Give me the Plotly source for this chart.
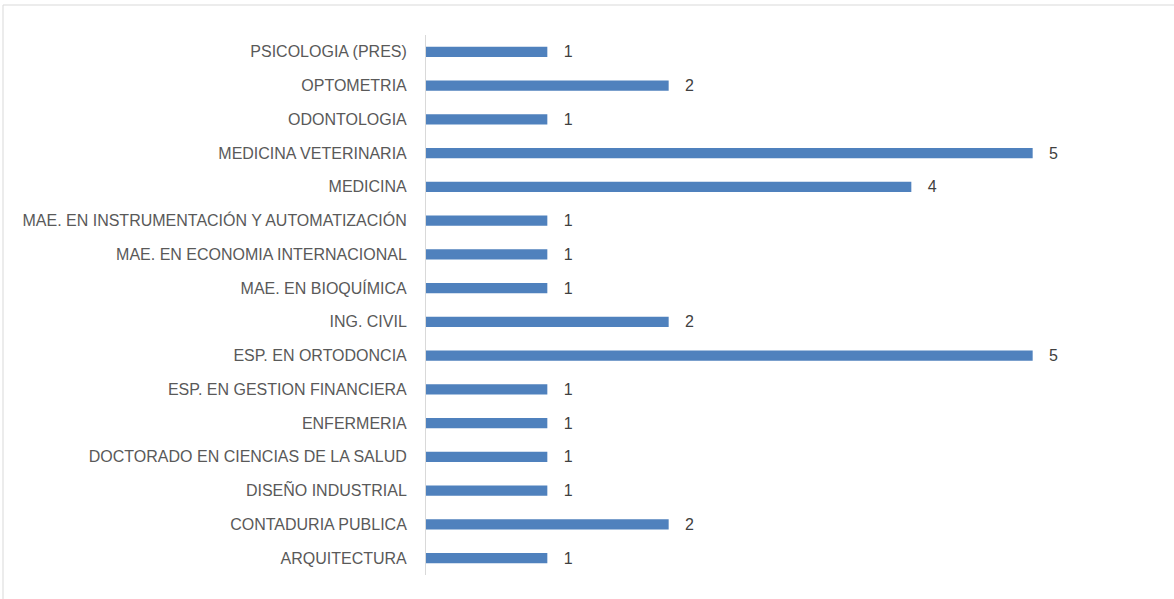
import plotly.graph_objects as go

categories = [
    "ARQUITECTURA",
    "CONTADURIA PUBLICA",
    "DISEÑO INDUSTRIAL",
    "DOCTORADO EN CIENCIAS DE LA SALUD",
    "ENFERMERIA",
    "ESP. EN GESTION FINANCIERA",
    "ESP. EN ORTODONCIA",
    "ING. CIVIL",
    "MAE. EN BIOQUÍMICA",
    "MAE. EN ECONOMIA INTERNACIONAL",
    "MAE. EN INSTRUMENTACIÓN Y AUTOMATIZACIÓN",
    "MEDICINA",
    "MEDICINA VETERINARIA",
    "ODONTOLOGIA",
    "OPTOMETRIA",
    "PSICOLOGIA (PRES)",
]
values = [1, 2, 1, 1, 1, 1, 5, 2, 1, 1, 1, 4, 5, 1, 2, 1]

fig = go.Figure(
    go.Bar(
        x=values,
        y=categories,
        orientation="h",
        width=0.3,
        marker=dict(color="#4f81bd", line=dict(color="#4f81bd", width=0)),
        text=["\u00a0\u00a0\u00a0" + str(v) for v in values],
        textposition="outside",
        constraintext="none",
        textfont=dict(family="Liberation Sans", size=16, color="#404040"),
        cliponaxis=False,
        hoverinfo="skip",
    )
)

fig.update_layout(
    width=1174,
    height=599,
    margin=dict(l=426, r=20, t=35, b=24),
    paper_bgcolor="white",
    plot_bgcolor="white",
    showlegend=False,
    font=dict(family="Liberation Sans", size=16, color="#595959"),
    xaxis=dict(range=[0, 6], visible=False, fixedrange=True),
    yaxis=dict(
        showline=True,
        linecolor="#d9d9d9",
        linewidth=1,
        ticks="",
        showgrid=False,
        fixedrange=True,
        ticklabelstandoff=15,
        tickfont=dict(family="Liberation Sans", size=16, color="#595959"),
        range=[-0.5, len(categories) - 0.5],
    ),
    shapes=[
        dict(
            type="rect",
            xref="paper",
            yref="paper",
            x0=(3 - 426) / 728,
            x1=1.2,
            y0=-0.2,
            y1=1 + 30 / 540,
            line=dict(color="#d9d9d9", width=1),
            fillcolor="rgba(0,0,0,0)",
            layer="below",
        )
    ],
)

fig.write_html(
    "out.html",
    config={"displayModeBar": False},
    post_script="document.body.style.margin='0';",
)
